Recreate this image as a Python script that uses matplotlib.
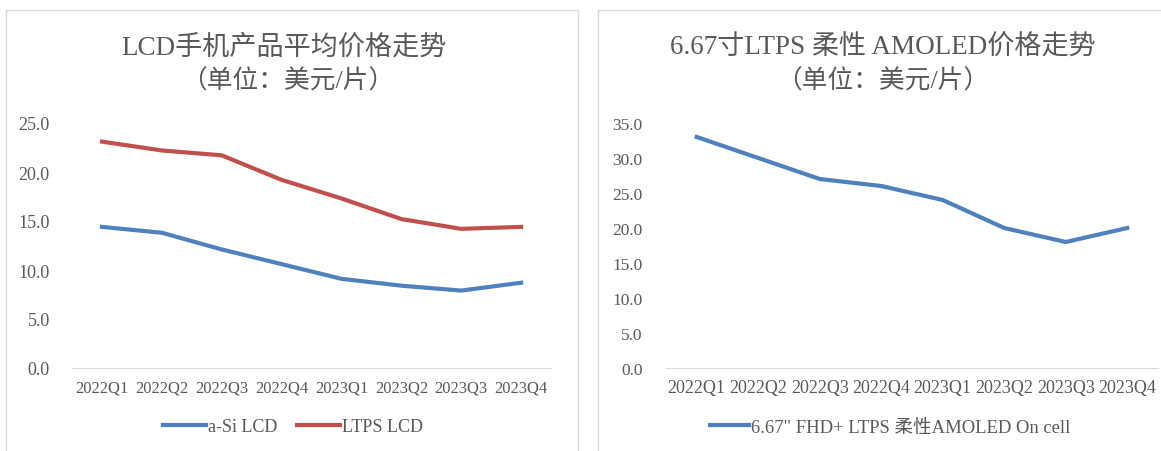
import matplotlib.pyplot as plt
from matplotlib.patches import Rectangle

plt.rcParams['font.family'] = ['Liberation Serif', 'Noto Sans CJK SC']

quarters = ['2022Q1', '2022Q2', '2022Q3', '2022Q4', '2023Q1', '2023Q2', '2023Q3', '2023Q4']
asi_lcd = [14.4, 13.8, 12.1, 10.6, 9.1, 8.4, 7.9, 8.7]
ltps_lcd = [23.1, 22.2, 21.7, 19.2, 17.3, 15.2, 14.2, 14.4]
amoled = [33.0, 30.0, 27.0, 26.0, 24.0, 20.0, 18.0, 20.0]

W, H = 1161, 452
grey = '#595959'
blue = '#4f81bd'
red = '#c0504d'

fig = plt.figure(figsize=(W / 100, H / 100), dpi=100)

def px_axes(x0, y0, x1, y1):
    # pixel box (top-left origin) -> figure fraction
    return fig.add_axes([x0 / W, 1 - y1 / H, (x1 - x0) / W, (y1 - y0) / H])

# panel borders
for x0, x1 in [(6, 578), (598, 1175)]:
    fig.patches.append(Rectangle((x0 / W, -0.01), (x1 - x0) / W, 1 - 11 / H + 0.01,
                                 transform=fig.transFigure, fill=False,
                                 edgecolor='#d9d9d9', lw=1))

def style(ax, ymax, xsize, ysize, ypad):
    ax.set_xlim(-0.5, 7.5)
    ax.set_ylim(0, ymax)
    ax.set_yticks([i * 5 for i in range(int(ymax / 5) + 1)])
    ax.yaxis.set_major_formatter(lambda v, p: f'{v:.1f}')
    ax.set_xticks(range(len(quarters)))
    ax.set_xticklabels(quarters)
    for s in ['top', 'right', 'left']:
        ax.spines[s].set_visible(False)
    ax.spines['bottom'].set_color('#d9d9d9')
    ax.tick_params(length=0, colors=grey)
    ax.tick_params(axis='x', pad=8, labelsize=xsize)
    ax.tick_params(axis='y', pad=ypad, labelsize=ysize)
    ax.patch.set_alpha(0)

ax1 = px_axes(72, 124, 551, 369)
ax1.plot(range(8), asi_lcd, color=blue, lw=3, label='a-Si LCD')
ax1.plot(range(8), ltps_lcd, color=red, lw=3, label='LTPS LCD')
style(ax1, 25, 12, 13, 16)
ax1.legend(loc='center', bbox_to_anchor=(293 / W, 1 - 428 / H), bbox_transform=fig.transFigure,
           ncol=2, frameon=False, fontsize=13, labelcolor=grey, handlelength=2.4,
           handletextpad=0.1, columnspacing=1.1)

ax2 = px_axes(666, 124, 1158, 369)
ax2.plot(range(8), amoled, color=blue, lw=3, label='6.67" FHD+ LTPS 柔性AMOLED On cell')
style(ax2, 35, 13, 12.5, 17)
ax2.legend(loc='center', bbox_to_anchor=(890 / W, 1 - 428 / H), bbox_transform=fig.transFigure,
           frameon=False, fontsize=13.4, labelcolor=grey, handlelength=2.1, handletextpad=0.1)

fig.text(284 / W, 1 - 48 / H, 'LCD手机产品平均价格走势', ha='center', va='center',
         fontsize=19.5, color=grey)
fig.text(288 / W, 1 - 81 / H, '（单位：美元/片）', ha='center', va='center',
         fontsize=18.5, color=grey)
fig.text(883 / W, 1 - 48 / H, '6.67寸LTPS 柔性 AMOLED价格走势', ha='center', va='center',
         fontsize=19.5, color=grey)
fig.text(883 / W, 1 - 81 / H, '（单位：美元/片）', ha='center', va='center',
         fontsize=18.5, color=grey)

fig.savefig('out.png', dpi=100)
